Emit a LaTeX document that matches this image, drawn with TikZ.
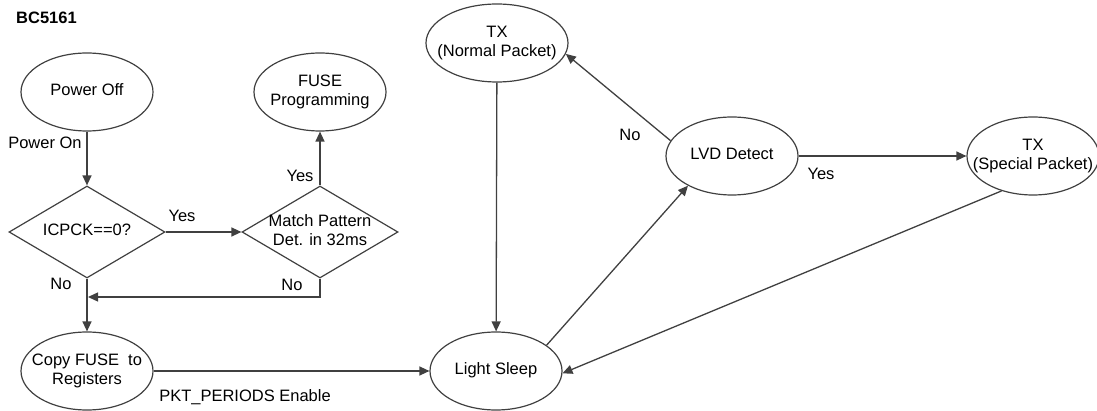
\documentclass[tikz,border=0pt]{standalone}
\usepackage{fontspec}
\setmainfont{Liberation Sans}
\usetikzlibrary{shapes.geometric,arrows.meta}
\definecolor{ink}{HTML}{404040}
% centred text of zero width, so that shapes keep their fixed size
\newcommand{\ctext}[1]{\makebox[0pt]{\begin{tabular}{@{}c@{}}#1\end{tabular}}}
\begin{document}
\fontsize{16.5}{19.5}\selectfont
\begin{tikzpicture}[x=1pt,y=-1pt,
  state/.style={ellipse,draw=ink,line width=1.2pt,inner sep=0pt,
    minimum width=132pt,minimum height=78pt},
  decision/.style={diamond,draw=ink,line width=1.2pt,inner sep=0pt,
    minimum width=156pt,minimum height=92pt},
  arr/.style={draw=ink,line width=1.3pt,-{Triangle[length=10pt,width=9pt]}},
  plain/.style={draw=ink,line width=1.3pt},
  lbl/.style={inner sep=0pt}]
\useasboundingbox (0,0) rectangle (1097,411);

\node[lbl,font=\bfseries] (title) at (46.5,17.5) {BC5161};

% states
\node[state] (off)  at (87,92)   {\ctext{Power Off}};
\node[state] (fuse) at (320,92)  {\ctext{FUSE\\Programming}};
\node[state] (copy) at (87,371)  {\ctext{Copy FUSE\ \ to\\Registers}};
\node[state] (ls)   at (496,371) {\ctext{Light Sleep}};
\node[state,minimum width=142pt] (txn) at (497,43) {\ctext{TX\\(Normal Packet)}};
\node[state] (lvd)  at (732,156) {\ctext{LVD Detect}};
\node[state] (txs)  at (1033,156) {\ctext{TX\\(Special Packet)}};

% decisions
\node[decision] (icp)   at (87,232)  {\ctext{ICPCK==0?}};
\node[decision] (match) at (320,232) {\ctext{Match Pattern\\Det. in 32ms}};

% connectors
\draw[arr] (off) -- (icp);
\draw[arr] (icp) -- (match);
\draw[arr] (match) -- (fuse);
\draw[arr] (icp) -- (copy);
\coordinate (join) at (88,297);
\draw[arr] (match.south) |- (join);
\draw[arr] (copy.east) -- (ls.west);
\draw[arr] (txn) -- (ls);
\draw[arr] (ls.27) -- (lvd.214);
\draw[arr] (lvd.166) -- (txn.-9);
\draw[arr] (lvd.east) -- (txs.west);
\draw[arr] (txs.228) -- (ls.-2);

% labels
\node[lbl] (lpon)  at (45,143)  {Power On};
\node[lbl] (lyes1) at (182,216) {Yes};
\node[lbl] (lyes2) at (300,176) {Yes};
\node[lbl] (lno1)  at (61,284)  {No};
\node[lbl] (lno2)  at (292,285) {No};
\node[lbl] (lpkt)  at (245,397) {PKT\_PERIODS Enable};
\node[lbl] (lno3)  at (630,135) {No};
\node[lbl] (lyes3) at (821,174) {Yes};
\end{tikzpicture}
\end{document}
